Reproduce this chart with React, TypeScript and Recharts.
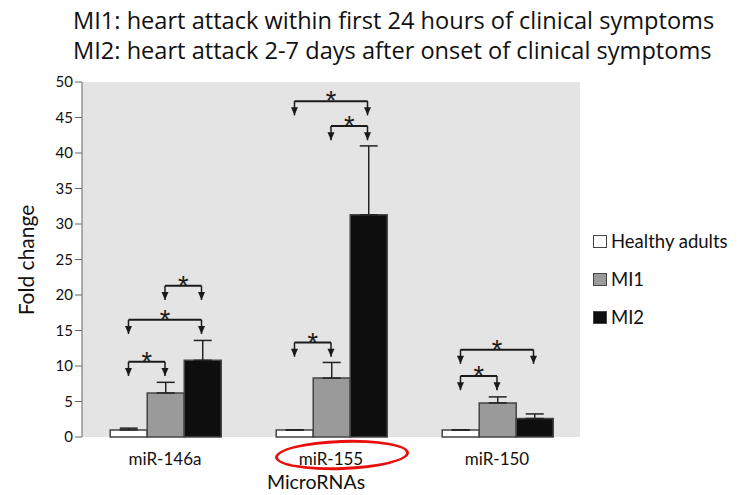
import React from 'react';
import {BarChart, Bar, XAxis, YAxis, CartesianGrid, Legend, ErrorBar, ReferenceLine, ReferenceDot} from 'recharts';

const categories = ['miR-146a', 'miR-155', 'miR-150'];
const healthy = [1.0, 1.0, 1.0];
const healthyErr = [0.25, 0, 0];
const mi1 = [6.2, 8.3, 4.8];
const mi1Err = [1.5, 2.2, 0.85];
const mi2 = [10.8, 31.3, 2.6];
const mi2Err = [2.8, 9.7, 0.65];
const yTicks = [0, 5, 10, 15, 20, 25, 30, 35, 40, 45, 50];
const seriesNames = ['Healthy adults', 'MI1', 'MI2'];
const seriesFills = ['#ffffff', '#9a9a9a', '#0e0e0e'];

// significance brackets: [category, from series, to series, bracket height]
const brackets: [number, number, number, number][] = [
    [0, 0, 1, 10.6], [0, 0, 2, 16.5], [0, 1, 2, 21.3],
    [1, 0, 1, 13.3], [1, 0, 2, 47.3], [1, 1, 2, 43.8],
    [2, 0, 1, 8.6], [2, 0, 2, 12.3],
];

const data = categories.map((name, i) => ({
    name,
    pos: i + 0.5, // category centre on the linear helper axis
    healthy: healthy[i],
    healthyErr: [0, healthyErr[i]],
    mi1: mi1[i],
    mi1Err: [0, mi1Err[i]],
    mi2: mi2[i],
    mi2Err: [0, mi2Err[i]],
}));

const FONT = 'Lato, "Open Sans", sans-serif';
const GAP = 0.17; // same as barCategoryGap below
const DROP = 2.0; // bracket leg length in fold-change units
const barCenter = (cat: number, k: number) => cat + GAP + (k + 0.5) * (1 - 2 * GAP) / 3;

const arrow = (p: any) => (
    <polygon points={`${p.cx - 3.5},${p.cy - 8} ${p.cx + 3.5},${p.cy - 8} ${p.cx},${p.cy}`} fill="#1a1a1a"/>
);
const star = (p: any) => (
    <text x={p.cx} y={p.cy + 9} textAnchor="middle" fontSize={27} fontFamily="Liberation Sans" fill="#1a1a1a">*</text>
);

const renderLegend = () => (
    <div style={{fontFamily: FONT}}>
        {seriesNames.map((n, i) => (
            <div key={n} style={{display: 'flex', alignItems: 'center', height: 38}}>
                <span style={{width: 12, height: 11, border: '1.5px solid #444', background: seriesFills[i], marginRight: 4}}/>
                <span style={{fontSize: 18.5, color: '#111'}}>{n}</span>
            </div>
        ))}
    </div>
);

const App = () => (
    <div style={{position: 'absolute', left: 0, top: 0, width: 739, height: 495, background: '#fff', fontFamily: FONT}}>
        <div style={{position: 'absolute', left: 73, top: 5, fontSize: 23.6, lineHeight: '30px', color: '#111', whiteSpace: 'nowrap', fontFamily: '"Open Sans", sans-serif'}}>
            MI1: heart attack within first 24 hours of clinical symptoms<br/>
            MI2: heart attack 2-7 days after onset of clinical symptoms
        </div>
        <div style={{position: 'absolute', left: 25, top: 260, transform: 'translate(-50%, -50%) rotate(-90deg)', fontSize: 21, lineHeight: 1, color: '#111', whiteSpace: 'nowrap'}}>
            Fold change
        </div>
        <div style={{position: 'absolute', left: 316, top: 482, transform: 'translate(-50%, -50%)', fontSize: 19.5, lineHeight: 1, color: '#111', whiteSpace: 'nowrap'}}>
            MicroRNAs
        </div>
        <BarChart width={739} height={495} data={data} margin={{top: 82, right: 159, bottom: 28, left: 22}}
                  barCategoryGap="17%" barGap={0}>
            <CartesianGrid fill="#e4e4e4" horizontal={false} vertical={false}/>
            <XAxis xAxisId="pos" dataKey="pos" type="number" scale="linear" domain={[0, 3]} ticks={[0, 1, 2, 3]} height={0}
                   tickFormatter={() => ''} tickSize={7} allowDataOverflow
                   axisLine={{stroke: '#666'}} tickLine={{stroke: '#666'}}/>
            <XAxis dataKey="name" height={30} axisLine={false} tickLine={false} interval={0} tickMargin={10}
                   tick={{fontSize: 17, fill: '#111', fontFamily: FONT}}/>
            <YAxis domain={[0, 50]} ticks={yTicks} interval={0} width={60} tickSize={7}
                   axisLine={{stroke: '#666'}} tickLine={{stroke: '#666'}}
                   tick={{fontSize: 15, fill: '#111', fontFamily: FONT}}/>
            <Legend layout="vertical" align="center" verticalAlign="middle" content={renderLegend}
                    wrapperStyle={{position: 'absolute', left: 593, top: 222, width: 146}}/>
            <Bar dataKey="healthy" name={seriesNames[0]} fill={seriesFills[0]} stroke="#444" strokeWidth={1.5} isAnimationActive={false}>
                <ErrorBar dataKey="healthyErr" width={9} stroke="#222" strokeWidth={1.5}/>
            </Bar>
            <Bar dataKey="mi1" name={seriesNames[1]} fill={seriesFills[1]} stroke="#444" strokeWidth={1.5} isAnimationActive={false}>
                <ErrorBar dataKey="mi1Err" width={9} stroke="#222" strokeWidth={1.5}/>
            </Bar>
            <Bar dataKey="mi2" name={seriesNames[2]} fill={seriesFills[2]} stroke="#444" strokeWidth={1.5} isAnimationActive={false}>
                <ErrorBar dataKey="mi2Err" width={9} stroke="#222" strokeWidth={1.5}/>
            </Bar>
            {brackets.map(([c, a, b, h], i) => {
                const x1 = barCenter(c, a);
                const x2 = barCenter(c, b);
                return [
                    <ReferenceLine key={`h${i}`} xAxisId="pos" segment={[{x: x1, y: h}, {x: x2, y: h}]} stroke="#1a1a1a" strokeWidth={2}/>,
                    <ReferenceLine key={`l${i}`} xAxisId="pos" segment={[{x: x1, y: h}, {x: x1, y: h - DROP}]} stroke="#1a1a1a" strokeWidth={1.5}/>,
                    <ReferenceLine key={`r${i}`} xAxisId="pos" segment={[{x: x2, y: h}, {x: x2, y: h - DROP}]} stroke="#1a1a1a" strokeWidth={1.5}/>,
                    <ReferenceDot key={`al${i}`} xAxisId="pos" x={x1} y={h - DROP} shape={arrow}/>,
                    <ReferenceDot key={`ar${i}`} xAxisId="pos" x={x2} y={h - DROP} shape={arrow}/>,
                    <ReferenceDot key={`s${i}`} xAxisId="pos" x={(x1 + x2) / 2} y={h} shape={star}/>,
                ];
            })}
        </BarChart>
        {/* hand-drawn red highlight around the miR-155 label */}
        <div style={{position: 'absolute', left: 275, top: 440, width: 128, height: 24, border: '3px solid #e8100c',
            borderRadius: '50%', transform: 'rotate(-2deg)', pointerEvents: 'none'}}/>
    </div>
);

export default App;
